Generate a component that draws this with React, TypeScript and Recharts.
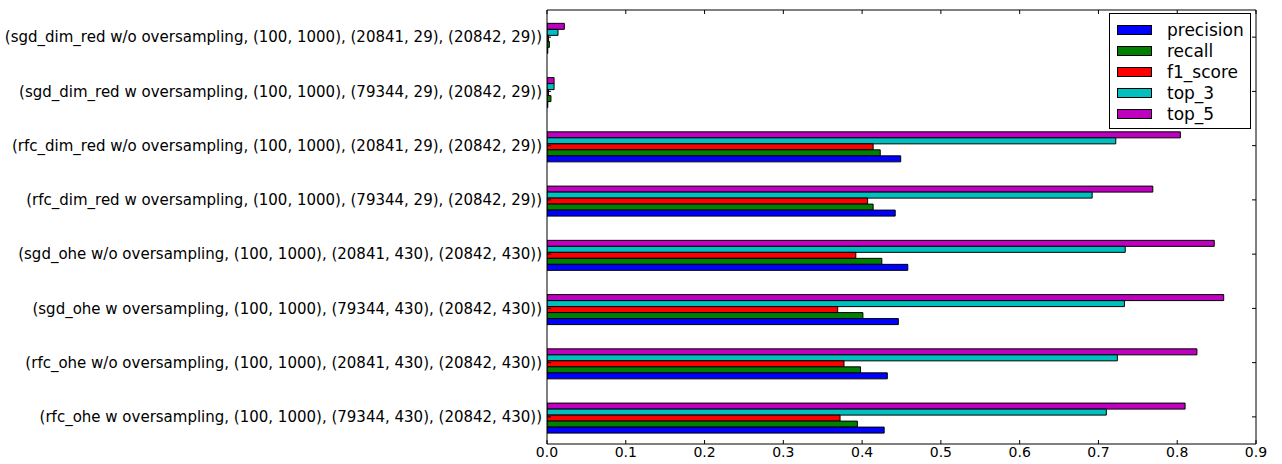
import React from "react";
import { BarChart, Bar, XAxis, YAxis } from "recharts";

// categories listed top to bottom as they appear in the plot
const categories = [
  "(sgd_dim_red w/o oversampling, (100, 1000), (20841, 29), (20842, 29))",
  "(sgd_dim_red w oversampling, (100, 1000), (79344, 29), (20842, 29))",
  "(rfc_dim_red w/o oversampling, (100, 1000), (20841, 29), (20842, 29))",
  "(rfc_dim_red w oversampling, (100, 1000), (79344, 29), (20842, 29))",
  "(sgd_ohe w/o oversampling, (100, 1000), (20841, 430), (20842, 430))",
  "(sgd_ohe w oversampling, (100, 1000), (79344, 430), (20842, 430))",
  "(rfc_ohe w/o oversampling, (100, 1000), (20841, 430), (20842, 430))",
  "(rfc_ohe w oversampling, (100, 1000), (79344, 430), (20842, 430))",
];

const precision = [0.001, 0.001, 0.449, 0.442, 0.458, 0.446, 0.432, 0.428];
const recall = [0.003, 0.005, 0.423, 0.414, 0.425, 0.401, 0.398, 0.394];
const f1Score = [0.002, 0.002, 0.414, 0.407, 0.392, 0.369, 0.377, 0.372];
const top3 = [0.014, 0.009, 0.722, 0.692, 0.734, 0.733, 0.724, 0.71];
const top5 = [0.022, 0.009, 0.804, 0.769, 0.847, 0.859, 0.825, 0.81];

const xTicks = [0, 0.1, 0.2, 0.3, 0.4, 0.5, 0.6, 0.7, 0.8, 0.9];

const legendItems = [
  { key: "precision", color: "#0000ff" },
  { key: "recall", color: "#008000" },
  { key: "f1_score", color: "#ff0000" },
  { key: "top_3", color: "#00bfbf" },
  { key: "top_5", color: "#bf00bf" },
];

const data = categories.map((name, i) => ({
  name,
  precision: precision[i],
  recall: recall[i],
  f1_score: f1Score[i],
  top_3: top3[i],
  top_5: top5[i],
}));

const FONT = "'DejaVu Sans', sans-serif";
const tickStyle = { fontSize: 15, fill: "#000", fontFamily: FONT };
const xTickStyle = { fontSize: 14, fill: "#000", fontFamily: FONT };
const noLabel = () => <g />;

// drawn top to bottom inside each group
const barOrder = ["top_5", "top_3", "f1_score", "recall", "precision"];
const colorOf = (k: string) => legendItems.find((l) => l.key === k)!.color;

function LegendBox() {
  return (
    <div
      style={{
        position: "absolute",
        left: 1109,
        top: 13,
        width: 142,
        border: "1px solid #000",
        background: "#fff",
        padding: "5px 0 4px 7px",
        fontFamily: FONT,
        fontSize: 17,
        boxSizing: "border-box",
      }}
    >
      {legendItems.map((it) => (
        <div key={it.key} style={{ display: "flex", alignItems: "center", height: 21 }}>
          <span
            style={{
              display: "inline-block",
              width: 35,
              height: 10,
              background: it.color,
              border: "1px solid #000",
              boxSizing: "border-box",
              marginRight: 15,
            }}
          />
          <span style={{ color: "#000" }}>{it.key}</span>
        </div>
      ))}
    </div>
  );
}

export default function App() {
  return (
    <div style={{ position: "absolute", left: 0, top: 0, width: 1282, height: 464, background: "#fff", fontFamily: FONT }}>
      <BarChart
        width={1282}
        height={464}
        data={data}
        layout="vertical"
        margin={{ top: 9, right: 25, bottom: 0, left: 0 }}
        barCategoryGap="24.6%"
        barGap={0}
      >
        <XAxis
          xAxisId="x"
          type="number"
          domain={[0, 0.9]}
          ticks={xTicks}
          allowDataOverflow
          tickFormatter={(v: number) => v.toFixed(1)}
          tick={xTickStyle}
          tickSize={-4}
          tickMargin={7}
          height={20}
          axisLine={{ stroke: "#000" }}
          tickLine={{ stroke: "#000" }}
        />
        <XAxis
          xAxisId="top"
          orientation="top"
          type="number"
          domain={[0, 0.9]}
          ticks={xTicks}
          allowDataOverflow
          tick={noLabel}
          tickSize={-4}
          height={1}
          axisLine={{ stroke: "#000" }}
          tickLine={{ stroke: "#000" }}
        />
        <YAxis
          yAxisId="y"
          type="category"
          dataKey="name"
          width={547}
          interval={0}
          tick={tickStyle}
          tickSize={-4}
          tickMargin={9}
          axisLine={{ stroke: "#000" }}
          tickLine={{ stroke: "#000" }}
        />
        <YAxis
          yAxisId="right"
          orientation="right"
          type="category"
          dataKey="name"
          width={1}
          interval={0}
          tick={noLabel}
          tickSize={-4}
          axisLine={{ stroke: "#000" }}
          tickLine={{ stroke: "#000" }}
        />
        {barOrder.map((k) => (
          <Bar
            key={k}
            xAxisId="x"
            yAxisId="y"
            dataKey={k}
            name={k}
            fill={colorOf(k)}
            stroke="#000"
            strokeWidth={1}
            isAnimationActive={false}
          />
        ))}
      </BarChart>
      <LegendBox />
    </div>
  );
}
